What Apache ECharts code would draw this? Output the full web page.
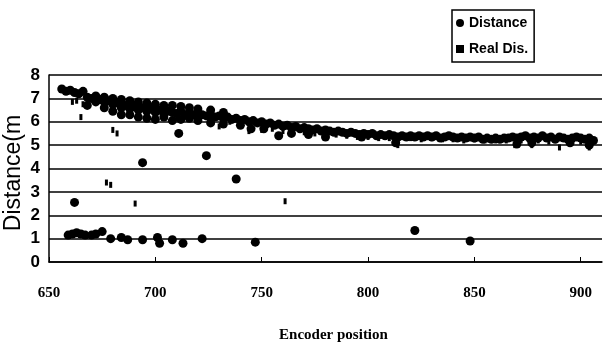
<!DOCTYPE html>
<html><head><meta charset="utf-8">
<script src="https://cdn.jsdelivr.net/npm/echarts@6/dist/echarts.min.js"></script>
<style>html,body{margin:0;padding:0;background:#fff}#c{width:611px;height:351px}</style>
</head><body><div id="c"></div>
<script>
// Distance (large dots): main band + upper band + lower band + outliers
var distX = [656,658,660,662,664,666,668,670,672,674,676,678,680,682,684,686,688,690,692,694,696,698,700,702,704,706,708,710,712,714,716,718,720,722,724,726,728,730,732,734,736,738,740,742,744,746,748,750,752,754,756,758,760,762,764,766,768,770,772,774,776,778,780,782,784,786,788,790,792,794,796,798,800,802,804,806,808,810,812,814,816,818,820,822,824,826,828,830,832,834,836,838,840,842,844,846,848,850,852,854,856,858,860,862,864,866,868,870,872,874,876,878,880,882,884,886,888,890,892,894,896,898,900,902,904,906,
  676,680,684,688,692,696,700,704,708,712,716,720,726,732,
  668,672,676,680,684,688,692,696,700,704,708,712,716,720,726,732,740,745,751,758,764,772,780,797,813,870,877,895,904,
  659,661,663,665,667,670,672,675,679,684,687,694,701,702,708,713,722,747,822,848,724,738,694,711,662];
var distY = [7.4,7.3,7.35,7.25,7.2,7.3,7.05,7.0,7.1,6.95,6.85,6.9,6.75,6.8,6.6,6.7,6.55,6.65,6.5,6.6,6.45,6.55,6.4,6.5,6.35,6.45,6.4,6.35,6.45,6.3,6.4,6.3,6.35,6.3,6.25,6.3,6.2,6.25,6.15,6.2,6.1,6.15,6.05,6.1,6.0,6.05,5.95,6.0,5.9,5.95,5.85,5.9,5.8,5.85,5.75,5.8,5.7,5.75,5.7,5.65,5.7,5.6,5.65,5.6,5.55,5.6,5.55,5.5,5.55,5.5,5.45,5.5,5.45,5.5,5.4,5.45,5.4,5.45,5.4,5.35,5.4,5.35,5.4,5.35,5.4,5.35,5.4,5.35,5.4,5.3,5.35,5.4,5.35,5.3,5.35,5.3,5.35,5.3,5.35,5.25,5.3,5.25,5.3,5.25,5.3,5.3,5.35,5.3,5.35,5.4,5.3,5.35,5.3,5.4,5.3,5.35,5.25,5.35,5.3,5.25,5.3,5.35,5.3,5.25,5.3,5.2,
  7.05,7.0,6.95,6.9,6.85,6.8,6.75,6.7,6.7,6.65,6.6,6.55,6.5,6.4,
  6.7,6.85,6.6,6.45,6.3,6.3,6.2,6.15,6.1,6.2,6.05,6.1,6.15,6.05,5.95,5.9,5.85,5.7,5.7,5.4,5.5,5.45,5.35,5.35,5.1,5.05,5.1,5.1,5.0,
  1.15,1.2,1.25,1.2,1.15,1.15,1.2,1.3,1.0,1.05,0.95,0.95,1.05,0.8,0.95,0.8,1.0,0.85,1.35,0.9,4.55,3.55,4.25,5.5,2.55];
// Real Dis. (small marks)
var realX = [661,663,665,666,668,672,676,680,684,688,692,696,700,705,710,715,720,725,730,735,740,744,750,755,760,765,770,775,780,785,790,795,800,805,810,814,820,825,830,835,840,845,850,855,860,865,869,872,877,880,885,890,895,900,904,
  680,682,677,679,661.5,690.5,761];
var realY = [6.85,6.9,6.2,6.75,6.95,6.9,6.8,6.6,6.55,6.4,6.35,6.3,6.25,6.2,6.15,6.2,6.1,6.05,5.8,6.0,5.9,5.6,5.65,5.7,5.6,5.6,5.55,5.5,5.35,5.45,5.4,5.35,5.35,5.3,5.3,5.0,5.3,5.25,5.3,5.25,5.25,5.2,5.25,5.2,5.2,5.2,5.0,5.2,5.0,5.2,5.15,4.9,5.2,5.15,4.9,
  5.65,5.5,3.4,3.3,2.55,2.5,2.6];
var xTicks = [650,700,750,800,850,900];
var yTicks = [0,1,2,3,4,5,6,7,8];

function pairs(xs, ys){ return xs.map(function(x,i){ return [x, ys[i]]; }); }

var chart = echarts.init(document.getElementById('c'), null, {renderer:'canvas'});
chart.setOption({
  animation:false,
  backgroundColor:'#fff',
  grid:{left:49,right:9,top:75,bottom:89},
  legend:{
    orient:'vertical', left:452, top:10, width:88,
    borderColor:'#000', borderWidth:1.5, padding:[6,6,6,4], itemGap:12,
    itemWidth:8, itemHeight:8,
    textStyle:{fontFamily:'Liberation Sans Narrow, Liberation Sans, sans-serif', fontSize:14, fontWeight:'bold', color:'#000'},
    data:[{name:'Distance', icon:'circle'},{name:'Real Dis.', icon:'rect'}]
  },
  xAxis:{
    type:'value', min:650, max:910, interval:50,
    name:'Encoder position', nameLocation:'middle', nameGap:66,
    nameTextStyle:{fontFamily:'Liberation Serif, serif', fontSize:15, fontWeight:'bold', color:'#000', padding:[0,0,0,16]},
    axisLine:{lineStyle:{color:'#000', width:1.5}},
    axisTick:{show:true, inside:true, length:5, lineStyle:{color:'#000', width:1}},
    splitLine:{show:false},
    axisLabel:{margin:24, showMaxLabel:false, fontFamily:'Liberation Serif, serif', fontSize:15, fontWeight:'bold', color:'#000',
      formatter:function(v){ return xTicks.indexOf(v)>=0 ? String(v) : ''; }}
  },
  yAxis:{
    type:'value', min:0, max:8, interval:1,
    axisLine:{show:true, lineStyle:{color:'#000', width:1.5}},
    axisTick:{show:false},
    splitLine:{show:true, lineStyle:{color:'#000', width:1.5}},
    axisLabel:{margin:9, fontFamily:'Liberation Sans, Arial, sans-serif', fontSize:17, fontWeight:'bold', color:'#000',
      formatter:function(v){ return yTicks.indexOf(v)>=0 ? String(v) : ''; }}
  },
  graphic:[{
    type:'text', x:14, y:173, rotation:Math.PI/2,
    style:{text:'Distance(m', fontFamily:'Liberation Sans, Arial, sans-serif', fontSize:23, fill:'#000', align:'center', verticalAlign:'middle'}
  }],
  series:[
    {name:'Distance', type:'scatter', symbol:'circle', symbolSize:9, itemStyle:{color:'#000', opacity:1}, data:pairs(distX, distY), z:3},
    {name:'Real Dis.', type:'scatter', symbol:'rect', symbolSize:[3,6], itemStyle:{color:'#000', opacity:1}, data:pairs(realX, realY), z:4}
  ]
});
</script>
</body></html>
